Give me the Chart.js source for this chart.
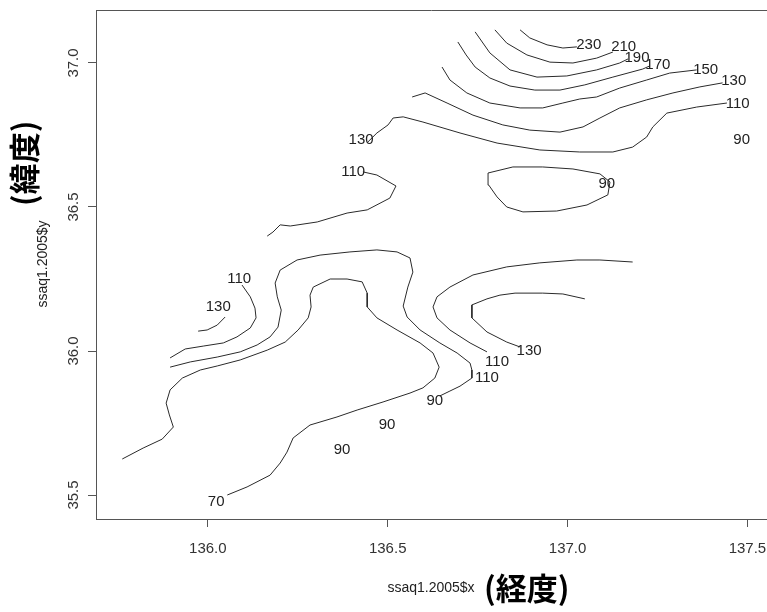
<!DOCTYPE html>
<html lang="ja">
<head>
    <meta charset="UTF-8">
    <title>等高線図</title>
    <script src="https://cdn.jsdelivr.net/npm/chart.js"></script>
    <style>
        * {
            margin: 0;
            padding: 0;
            box-sizing: border-box;
        }

        html, body {
            width: 767px;
            height: 612px;
            overflow: hidden;
            background: #fff;
        }

        .chart-box {
            position: relative;
            width: 767px;
            height: 612px;
        }
    </style>
</head>
<body>
    <div class="chart-box">
        <canvas id="contourChart" width="767" height="612"></canvas>
    </div>

    <script>
        // 軸の目盛り
        const xTicks = [136.0, 136.5, 137.0, 137.5];
        const yTicks = [35.5, 36.0, 36.5, 37.0];

        // 等高線 (経度, 緯度)
        const c230 = [[136.868,37.115],[136.895,37.087],[136.943,37.063],[136.987,37.052],[137.026,37.056]];
        const c210 = [[136.798,37.115],[136.831,37.069],[136.887,37.028],[136.951,37.003],[137.015,37.000],[137.081,37.017],[137.126,37.038]];
        const c190 = [[136.743,37.108],[136.784,37.035],[136.840,36.976],[136.915,36.951],[136.998,36.955],[137.081,36.976],[137.145,37.000],[137.168,37.014]];
        const c170 = [[136.695,37.073],[136.718,37.028],[136.743,36.986],[136.784,36.948],[136.840,36.920],[136.909,36.906],[136.979,36.906],[137.048,36.924],[137.126,36.951],[137.209,36.979],[137.229,36.990]];
        const c150 = [[136.651,36.986],[136.673,36.941],[136.720,36.896],[136.784,36.861],[136.868,36.844],[136.931,36.844],[136.987,36.861],[137.034,36.875],[137.081,36.882],[137.145,36.913],[137.220,36.941],[137.284,36.965],[137.359,36.976]];
        const c130a = [[136.568,36.882],[136.604,36.896],[136.665,36.861],[136.737,36.819],[136.820,36.785],[136.895,36.767],[136.979,36.760],[137.043,36.778],[137.090,36.809],[137.145,36.844],[137.220,36.872],[137.293,36.896],[137.368,36.917],[137.431,36.931]];
        const c110a = [[136.445,36.726],[136.470,36.757],[136.501,36.785],[136.515,36.809],[136.543,36.813],[136.598,36.795],[136.701,36.757],[136.804,36.722],[136.923,36.698],[137.034,36.691],[137.126,36.691],[137.181,36.708],[137.220,36.743],[137.237,36.778],[137.276,36.826],[137.359,36.847],[137.443,36.861]];
        const c90a = [[136.779,36.618],[136.848,36.639],[136.931,36.639],[137.015,36.632],[137.090,36.615],[137.118,36.587],[137.112,36.542],[137.054,36.507],[136.970,36.486],[136.876,36.483],[136.831,36.500],[136.804,36.535],[136.781,36.576],[136.779,36.618]];
        const c110b = [[136.431,36.622],[136.470,36.611],[136.523,36.573],[136.506,36.531],[136.443,36.490],[136.387,36.479],[136.304,36.448],[136.229,36.434],[136.201,36.438],[136.181,36.413],[136.165,36.399]];
        const c110c = [[136.095,36.229],[136.118,36.188],[136.131,36.149],[136.134,36.115],[136.118,36.080],[136.081,36.049],[136.043,36.028],[135.987,36.017],[135.937,36.007],[135.895,35.976]];
        const c130b = [[136.048,36.118],[136.026,36.090],[135.998,36.073],[135.973,36.069]];
        const c110d = [[135.895,35.944],[135.951,35.962],[136.026,35.979],[136.090,35.997],[136.137,36.021],[136.173,36.049],[136.195,36.083],[136.204,36.142],[136.193,36.188],[136.187,36.236],[136.201,36.281],[136.248,36.316],[136.312,36.333],[136.395,36.344],[136.470,36.351],[136.526,36.344],[136.562,36.323],[136.570,36.274],[136.556,36.222],[136.543,36.156],[136.554,36.118],[136.590,36.073],[136.645,36.028],[136.693,35.993],[136.729,35.958],[136.734,35.934],[136.734,35.906],[136.701,35.878],[136.673,35.861],[136.645,35.844]];
        const c110e = [[137.181,36.309],[137.090,36.316],[137.026,36.316],[136.923,36.306],[136.831,36.292],[136.737,36.264],[136.673,36.222],[136.637,36.188],[136.626,36.153],[136.637,36.115],[136.673,36.073],[136.729,36.028],[136.776,35.997]];
        const c130c = [[137.048,36.181],[136.987,36.198],[136.931,36.201],[136.854,36.201],[136.812,36.194],[136.776,36.181],[136.734,36.160],[136.734,36.115],[136.776,36.066],[136.831,36.031],[136.868,36.014]];
        const c70 = [[135.762,35.625],[135.820,35.663],[135.873,35.694],[135.904,35.736],[135.893,35.778],[135.884,35.819],[135.895,35.865],[135.929,35.906],[135.979,35.934],[136.026,35.948],[136.090,35.969],[136.165,36.003],[136.215,36.031],[136.251,36.073],[136.279,36.115],[136.287,36.153],[136.284,36.194],[136.293,36.222],[136.340,36.250],[136.387,36.250],[136.429,36.240],[136.443,36.201],[136.443,36.153],[136.470,36.115],[136.526,36.073],[136.590,36.028],[136.626,35.993],[136.643,35.944],[136.631,35.906],[136.598,35.872],[136.562,35.854],[136.487,35.823],[136.415,35.795],[136.359,35.771],[136.284,35.743],[136.237,35.698],[136.220,35.649],[136.201,35.611],[136.173,35.569],[136.109,35.528],[136.054,35.500]];

        // 等高線ラベル
        const labelText = ['230','210','190','170','150','130','110','90','130','110','90','110','130','130','110','110','90','90','90','70'];
        const labelLon = [137.059,137.156,137.193,137.251,137.384,137.462,137.473,137.484,136.426,136.404,137.109,136.087,136.029,136.893,136.804,136.776,136.631,136.498,136.373,136.023];
        const labelLat = [37.063,37.056,37.017,36.993,36.976,36.938,36.858,36.733,36.733,36.622,36.580,36.250,36.153,36.000,35.962,35.906,35.826,35.743,35.656,35.476];

        const contours = [c230, c210, c190, c170, c150, c130a, c110a, c90a, c110b, c110c, c130b, c110d, c110e, c130c, c70];

        const NUM_FONT = "'Liberation Sans', Arial, sans-serif";
        const CJK_FONT = "'Noto Sans CJK JP', 'Noto Sans CJK SC', sans-serif";
        const AXIS_COLOR = '#555';

        // 枠線・ラベル・軸タイトル
        const decorPlugin = {
            id: 'decor',
            afterDatasetsDraw(chart) {
                const ctx = chart.ctx;
                const xs = chart.scales.x;
                const ys = chart.scales.y;
                const area = chart.chartArea;

                ctx.save();
                // 上辺
                ctx.strokeStyle = AXIS_COLOR;
                ctx.lineWidth = 1;
                ctx.beginPath();
                ctx.moveTo(area.left, Math.round(area.top) + 0.5);
                ctx.lineTo(area.right, Math.round(area.top) + 0.5);
                ctx.stroke();

                // 等高線の数値
                ctx.fillStyle = '#222';
                ctx.font = '15px ' + NUM_FONT;
                ctx.textAlign = 'center';
                ctx.textBaseline = 'middle';
                labelText.forEach((t, i) => {
                    ctx.fillText(t, xs.getPixelForValue(labelLon[i]), ys.getPixelForValue(labelLat[i]));
                });

                // x軸タイトル
                ctx.fillStyle = '#222';
                ctx.font = '14px ' + NUM_FONT;
                ctx.textAlign = 'center';
                ctx.textBaseline = 'alphabetic';
                ctx.fillText('ssaq1.2005$x', 431, 592);
                ctx.fillStyle = '#000';
                ctx.font = 'bold 31px ' + CJK_FONT;
                ctx.textAlign = 'left';
                ctx.textBaseline = 'middle';
                ctx.fillText('(経度)', 484, 588);

                // y軸タイトル
                ctx.save();
                ctx.translate(43, 264);
                ctx.rotate(-Math.PI / 2);
                ctx.fillStyle = '#222';
                ctx.font = '14px ' + NUM_FONT;
                ctx.textAlign = 'center';
                ctx.textBaseline = 'middle';
                ctx.fillText('ssaq1.2005$y', 0, 0);
                ctx.restore();

                ctx.save();
                ctx.translate(24, 206);
                ctx.rotate(-Math.PI / 2);
                ctx.fillStyle = '#000';
                ctx.font = 'bold 31px ' + CJK_FONT;
                ctx.textAlign = 'left';
                ctx.textBaseline = 'middle';
                ctx.fillText('(緯度)', 0, 0);
                ctx.restore();

                ctx.restore();
            }
        };

        const ctx = document.getElementById('contourChart').getContext('2d');

        new Chart(ctx, {
            type: 'scatter',
            data: {
                datasets: contours.map(line => ({
                    data: line.map(p => ({ x: p[0], y: p[1] })),
                    showLine: true,
                    borderColor: '#2a2a2a',
                    borderWidth: 1,
                    pointRadius: 0,
                    tension: 0,
                    fill: false
                }))
            },
            options: {
                responsive: false,
                animation: false,
                devicePixelRatio: 1,
                layout: {
                    padding: { top: 10, left: 0, right: 0, bottom: 0 }
                },
                plugins: {
                    legend: { display: false },
                    tooltip: { enabled: false }
                },
                scales: {
                    x: {
                        type: 'linear',
                        min: 135.689,
                        max: 137.5545,
                        afterBuildTicks: s => { s.ticks = xTicks.map(v => ({ value: v })); },
                        afterFit: s => { s.height = 93; s.paddingLeft = 0; s.paddingRight = 0; },
                        grid: { drawOnChartArea: false, tickLength: 8, color: AXIS_COLOR },
                        border: { display: true, color: AXIS_COLOR, width: 1 },
                        ticks: {
                            font: { family: NUM_FONT, size: 15 },
                            color: '#333',
                            padding: 13,
                            maxRotation: 0,
                            callback: v => Number(v).toFixed(1)
                        }
                    },
                    y: {
                        type: 'linear',
                        min: 35.4167,
                        max: 37.184,
                        afterBuildTicks: s => { s.ticks = yTicks.map(v => ({ value: v })); },
                        afterFit: s => { s.width = 96; s.paddingTop = 0; s.paddingBottom = 0; },
                        grid: { drawOnChartArea: false, tickLength: 8, color: AXIS_COLOR },
                        border: { display: true, color: AXIS_COLOR, width: 1 },
                        ticks: {
                            font: { family: NUM_FONT, size: 15 },
                            color: '#333',
                            padding: 0,
                            minRotation: 90,
                            maxRotation: 90,
                            crossAlign: 'center',
                            callback: v => Number(v).toFixed(1)
                        }
                    }
                }
            },
            plugins: [decorPlugin]
        });
    </script>
</body>
</html>
